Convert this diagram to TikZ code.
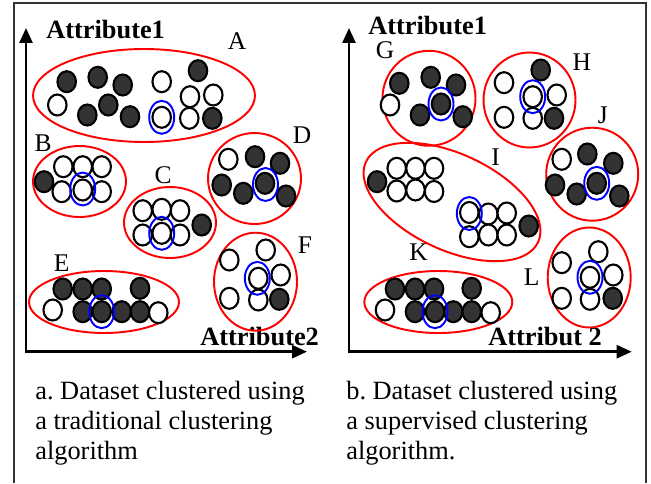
\documentclass[tikz,border=0pt]{standalone}
\usepackage{fontspec}
\setmainfont{Liberation Serif}
\usetikzlibrary{shapes.geometric, arrows.meta}
\frenchspacing

\begin{document}
\begin{tikzpicture}[
        x=0.02cm, y=-0.02cm,
        dot/.style={% For the data points
            ellipse,
            draw,
            line width=1.2pt,
            inner sep=0pt,
            minimum width=0.37cm,
            minimum height=0.42cm,
            },
        odot/.style={dot, fill=white},% open points
        fdot/.style={dot, fill=black!80},% filled points
        cluster/.style={% For the red clusters
            ellipse,
            draw=red,
            line width=1.1pt,
            inner sep=0pt,
            },
        ring/.style={% For the blue mark round one point
            ellipse,
            draw=blue,
            line width=1.1pt,
            inner sep=0pt,
            minimum width=0.5cm,
            minimum height=0.66cm,
            },
        clabel/.style={% cluster letters
            font=\fontsize{14.5}{16}\selectfont,
            inner sep=0pt,
            },
        axlabel/.style={% names of the axes
            font=\fontsize{15}{17}\selectfont\bfseries,
            inner sep=0pt,
            anchor=base west,
            },
        captext/.style={% text under the plots
            font=\fontsize{15}{17.1}\selectfont,
            align=left,
            inner sep=0pt,
            anchor=north west,
            },
        axis/.style={% Arrows of the axes
            line width=1.5pt,
            {Triangle[length=0.3cm,width=0.26cm]}-{Triangle[length=0.3cm,width=0.26cm]},
            },
            ]
    \useasboundingbox (0,0) rectangle (651,483);
    % Frame
    \draw[line width=1pt, black!80] (14,483) -- (14,3) -- (646,3) -- (646,483);
    % Axes
    \coordinate (oL) at (26,351.7);
    \coordinate (yL) at (26,28);
    \coordinate (xL) at (307,351.7);
    \coordinate (oR) at (349,351.7);
    \coordinate (yR) at (349,28);
    \coordinate (xR) at (631.7,351.7);
    \draw[axis] (yL) -- (oL) -- (xL);
    \draw[axis] (yR) -- (oR) -- (xR);
    \node[axlabel] (a1L) at (46,39) {Attribute1};
    \node[axlabel] (a2L) at (200,345) {Attribute2};
    \node[axlabel] (a1R) at (368,35) {Attribute1};
    \node[axlabel] (a2R) at (488,345) {Attribut 2};
    % Draw the clusters, named c#
    \node[cluster, minimum width=4.44cm, minimum height=1.86cm] (cA) at (144,95.5) {};
    \node[cluster, minimum width=1.86cm, minimum height=1.42cm] (cB) at (79.5,181.5) {};
    \node[cluster, minimum width=1.84cm, minimum height=1.42cm] (cC) at (170,222.5) {};
    \node[cluster, minimum width=1.86cm, minimum height=1.82cm] (cD) at (254.5,178.5) {};
    \node[cluster, minimum width=3.0cm, minimum height=1.24cm] (cE) at (104,302) {};
    \node[cluster, minimum width=1.66cm, minimum height=1.96cm] (cF) at (255.5,281.7) {};
    \node[cluster, minimum width=1.86cm, minimum height=1.9cm] (cG) at (429,98.3) {};
    \node[cluster, minimum width=1.84cm, minimum height=1.9cm] (cH) at (529.5,100) {};
    \node[cluster, minimum width=3.8cm, minimum height=1.92cm, rotate=-25] (cI) at (452,202) {};
    \node[cluster, minimum width=1.84cm, minimum height=1.86cm] (cJ) at (592.2,174.2) {};
    \node[cluster, minimum width=2.96cm, minimum height=1.24cm] (cK) at (438.3,302) {};
    \node[cluster, minimum width=1.66cm, minimum height=2.0cm] (cL) at (589.2,277.5) {};
    % Cluster letters
    \node[clabel] (lA) at (237,41) {A};
    \node[clabel] (lB) at (43,143) {B};
    \node[clabel] (lC) at (163,175) {C};
    \node[clabel] (lD) at (302,135) {D};
    \node[clabel] (lE) at (61.7,263.3) {E};
    \node[clabel] (lF) at (305,245) {F};
    \node[clabel] (lG) at (385,50) {G};
    \node[clabel] (lH) at (581.7,61.7) {H};
    \node[clabel] (lI) at (495.7,156.7) {I};
    \node[clabel] (lJ) at (602.7,115) {J};
    \node[clabel] (lK) at (418.5,251.7) {K};
    \node[clabel] (lL) at (531.7,276.7) {L};
    % Points of the left plot
    \foreach \p [count=\i] in {(66.7,81.7),(97.7,77.3),(122.7,85),(108.3,105),(87.3,115),(130,116.7),(198,70.7),(212.3,118.3)}
        \node[fdot] (A-f\i) at \p {};
    \foreach \p [count=\i] in {(57.3,105),(161.7,81.7),(190,96.7),(213.3,95),(161.7,117.3),(189.3,118.3)}
        \node[odot] (A-o\i) at \p {};
    \node[fdot] (B-f1) at (44,181.7) {};
    \foreach \p [count=\i] in {(63.3,166.7),(82.7,166.7),(101.7,166.7),(61.7,191.7),(82.7,190),(101.7,191.7)}
        \node[odot] (B-o\i) at \p {};
    \node[fdot] (C-f1) at (201.7,225) {};
    \foreach \p [count=\i] in {(142.7,210.7),(161.7,209.3),(180,210.7),(142.7,235),(161.7,233.3),(180,235)}
        \node[odot] (C-o\i) at \p {};
    \node[odot] (D-o1) at (228.3,159.3) {};
    \foreach \p [count=\i] in {(255,156.7),(280,163.3),(221.7,185),(243.3,193.3),(265,183.3),(286,196)}
        \node[fdot] (D-f\i) at \p {};
    \foreach \p [count=\i] in {(62.7,289),(82.7,289),(101.7,289),(140,288.3),(82.7,311.7),(101.7,311.7),(121.7,311.7),(140,311.7)}
        \node[fdot] (E-f\i) at \p {};
    \foreach \p [count=\i] in {(52.7,310),(158.3,312.7)}
        \node[odot] (E-o\i) at \p {};
    \foreach \p [count=\i] in {(229.3,260),(265.7,250),(258.3,278.3),(280.7,275),(229.3,298.3),(258.3,300)}
        \node[odot] (F-o\i) at \p {};
    \node[fdot] (F-f1) at (279.3,299.3) {};
    % Points of the right plot
    \foreach \p [count=\i] in {(399.3,83.3),(430.7,77.3),(456,85),(420,115),(441,104),(462.7,116.7)}
        \node[fdot] (G-f\i) at \p {};
    \node[odot] (G-o1) at (390,105) {};
    \foreach \p [count=\i] in {(504,82.7),(532.7,96.7),(556.7,95),(504,117.3),(532.7,118.3)}
        \node[odot] (H-o\i) at \p {};
    \foreach \p [count=\i] in {(540.7,70),(554,118.3)}
        \node[fdot] (H-f\i) at \p {};
    \foreach \p [count=\i] in {(396.7,168.3),(415.5,168.3),(434,168.3),(396.7,191),(415.5,190),(434,191.5),(469.3,212.5),(488.3,214),(506.7,213),(469.3,236.7),(488.3,235),(506.7,235)}
        \node[odot] (I-o\i) at \p {};
    \foreach \p [count=\i] in {(377,181.7),(528.7,226)}
        \node[fdot] (I-f\i) at \p {};
    \node[odot] (J-o1) at (561.7,159.3) {};
    \foreach \p [count=\i] in {(587.3,154),(613.3,163.3),(555,185),(576.7,194),(596.7,183.3),(619.3,196)}
        \node[fdot] (J-f\i) at \p {};
    \foreach \p [count=\i] in {(395,289),(415,289),(434,289),(471.7,288.3),(415,311.7),(435,311.7),(453.3,311.7),(471.7,311.7)}
        \node[fdot] (K-f\i) at \p {};
    \foreach \p [count=\i] in {(385,310),(490.7,312.7)}
        \node[odot] (K-o\i) at \p {};
    \foreach \p [count=\i] in {(561.7,262.7),(598.3,251.7),(590,277.3),(613.3,275),(561.7,298.3),(590,299.3)}
        \node[odot] (L-o\i) at \p {};
    \node[fdot] (L-f1) at (612.7,298.3) {};
    % Blue rings
    \node[ring] (A-r) at (161.7,117.3) {};
    \node[ring] (B-r) at (82.7,189) {};
    \node[ring] (C-r) at (161.7,233.3) {};
    \node[ring] (D-r) at (265.5,184.5) {};
    \node[ring] (E-r) at (101.7,311.7) {};
    \node[ring] (F-r) at (257.3,278.3) {};
    \node[ring] (G-r) at (441,104) {};
    \node[ring] (H-r) at (532.7,96.7) {};
    \node[ring] (I-r) at (469.3,213.5) {};
    \node[ring] (J-r) at (596.7,183.3) {};
    \node[ring] (K-r) at (435,311.7) {};
    \node[ring] (L-r) at (590,277.3) {};
    % Captions
    \node[captext] (capA) at (35,381) {a. Dataset clustered using\\a traditional clustering\\algorithm};
    \node[captext] (capB) at (346,381) {b. Dataset clustered using\\a supervised clustering\\algorithm.};
\end{tikzpicture}
\end{document}
